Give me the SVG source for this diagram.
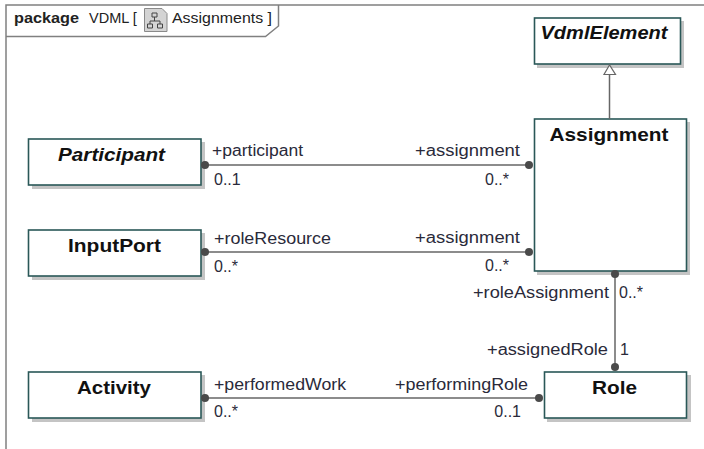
<svg xmlns="http://www.w3.org/2000/svg" width="704" height="449" viewBox="0 0 704 449">
<style>
.frame{fill:none;stroke:#808080;stroke-width:1.5}
.box{fill:#fff;stroke:#2a5858;stroke-width:1.6}
.sh{fill:#c4c4c4}
.ln{fill:none;stroke:#666;stroke-width:1.5}
.dot{fill:#4a4a4a}
text{font-family:"Liberation Sans",Arial,sans-serif;fill:#222}
.n{font-size:19px;font-weight:bold;text-anchor:middle;fill:#111}
.i{font-style:italic}
.l{font-size:16px;fill:#2a2a3a}
.e{text-anchor:end}
.h{font-size:14.5px}
</style>
<rect width="704" height="449" fill="#fff"/>
<g id="frame">
<path class="frame" d="M6 449V5H704"/>
<path class="frame" d="M6 36.500H265.500L278.500 26V5"/>
<text x="14" y="23" class="h" style="font-weight:bold" textLength="65" lengthAdjust="spacingAndGlyphs">package</text>
<text x="89" y="23" class="h">VDML [</text>
<text x="172" y="23" class="h" textLength="100" lengthAdjust="spacingAndGlyphs">Assignments ]</text>
<g id="icon">
<path d="M144.500 8.500H162L167 13.500V31.500H144.500Z" fill="#d4d4d4" stroke="#8a8a8a"/>
<path d="M152 13h5v4h-5zM147.500 24h5v4h-5zM157.500 24h5v4h-5zM154.500 17v4M150 24v-3h10v3" fill="none" stroke="#444"/>
</g>
</g>
<g id="VdmlElement">
<rect class="sh" x="537" y="21" width="147" height="47"/>
<rect class="box" x="534.500" y="18" width="146" height="46"/>
<text class="n i" x="604" y="39" textLength="127" lengthAdjust="spacingAndGlyphs">VdmlElement</text>
</g>
<g id="Assignment">
<rect class="sh" x="537" y="122" width="153" height="153"/>
<rect class="box" x="534.500" y="119" width="152" height="152"/>
<text class="n" x="609" y="141" textLength="119" lengthAdjust="spacingAndGlyphs">Assignment</text>
</g>
<g id="Participant">
<rect class="sh" x="32" y="142" width="173" height="47"/>
<rect class="box" x="28.500" y="139" width="172.500" height="46"/>
<text class="n i" x="111.500" y="161" textLength="107" lengthAdjust="spacingAndGlyphs">Participant</text>
</g>
<g id="InputPort">
<rect class="sh" x="32" y="233" width="173" height="47"/>
<rect class="box" x="28.500" y="230" width="172.500" height="46"/>
<text class="n" x="114.500" y="252" textLength="93" lengthAdjust="spacingAndGlyphs">InputPort</text>
</g>
<g id="Activity">
<rect class="sh" x="32" y="375" width="173" height="47"/>
<rect class="box" x="28.500" y="372" width="172.500" height="46"/>
<text class="n" x="114" y="394" textLength="74" lengthAdjust="spacingAndGlyphs">Activity</text>
</g>
<g id="Role">
<rect class="sh" x="547" y="375" width="144" height="47"/>
<rect class="box" x="544.500" y="372" width="142" height="46"/>
<text class="n" x="614.500" y="394" textLength="45" lengthAdjust="spacingAndGlyphs">Role</text>
</g>
<g id="connectors">
<path class="ln" d="M205 165H529"/>
<circle class="dot" cx="205" cy="165" r="4"/><circle class="dot" cx="529" cy="165" r="4"/>
<path class="ln" d="M205 252H529"/>
<circle class="dot" cx="205" cy="252" r="4"/><circle class="dot" cx="529" cy="252" r="4"/>
<path class="ln" d="M205 398H539"/>
<circle class="dot" cx="205" cy="398" r="4"/><circle class="dot" cx="539" cy="398" r="4"/>
<path class="ln" d="M615 274V367"/>
<circle class="dot" cx="615" cy="274" r="4"/><circle class="dot" cx="615" cy="367" r="4"/>
<path class="ln" d="M609.500 119V74.500"/>
<path d="M609.500 65L604 74.500H615.500Z" fill="#fff" stroke="#666" stroke-width="1.200"/>
<text class="l" x="212" y="156" textLength="91" lengthAdjust="spacingAndGlyphs">+participant</text>
<text class="l" x="214" y="185">0..1</text>
<text class="l e" x="520" y="156" textLength="105" lengthAdjust="spacingAndGlyphs">+assignment</text>
<text class="l e" x="509" y="185">0..*</text>
<text class="l" x="214" y="244" textLength="117" lengthAdjust="spacingAndGlyphs">+roleResource</text>
<text class="l" x="214" y="272">0..*</text>
<text class="l e" x="520" y="243" textLength="105" lengthAdjust="spacingAndGlyphs">+assignment</text>
<text class="l e" x="509" y="271">0..*</text>
<text class="l" x="214" y="390" textLength="132" lengthAdjust="spacingAndGlyphs">+performedWork</text>
<text class="l" x="214" y="417">0..*</text>
<text class="l e" x="528" y="390" textLength="133" lengthAdjust="spacingAndGlyphs">+performingRole</text>
<text class="l e" x="521" y="417">0..1</text>
<text class="l e" x="609" y="298" textLength="136" lengthAdjust="spacingAndGlyphs">+roleAssignment</text>
<text class="l" x="619" y="298">0..*</text>
<text class="l e" x="608" y="355" textLength="121" lengthAdjust="spacingAndGlyphs">+assignedRole</text>
<text class="l" x="620" y="355">1</text>
</g>
</svg>
